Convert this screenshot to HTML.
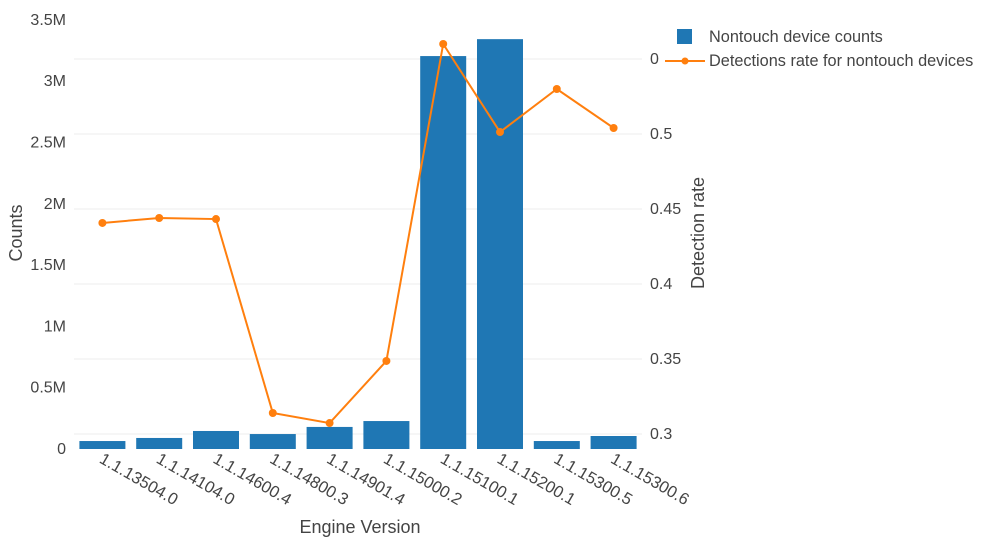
<!DOCTYPE html>
<html><head><meta charset="utf-8">
<style>
body{margin:0;background:#fff;font-family:"Liberation Sans",sans-serif;}
svg text{font-family:"Liberation Sans",sans-serif;fill:#444;}
</style></head>
<body>
<svg id="chart" width="994" height="544" xmlns="http://www.w3.org/2000/svg">
<g id="grid"></g><g id="bars"></g><g id="line"></g><g id="axes"></g>
<g id="legend">
 <rect x="677" y="29" width="15" height="15" fill="#1f77b4"/>
 <text x="709" y="42" font-size="16.3">Nontouch device counts</text>
 <line x1="665" y1="61" x2="705" y2="61" stroke="#ff7f0e" stroke-width="2"/>
 <circle cx="685" cy="61" r="3.5" fill="#ff7f0e"/>
 <text x="709" y="66" font-size="16.3">Detections rate for nontouch devices</text>
</g>
<text x="360" y="533" font-size="18" text-anchor="middle">Engine Version</text>
<text transform="translate(22,233) rotate(-90)" font-size="18" text-anchor="middle">Counts</text>
<text transform="translate(704,233) rotate(-90)" font-size="18" text-anchor="middle">Detection  rate</text>
</svg>
<script>
const categories=["1.1.13504.0","1.1.14104.0","1.1.14600.4","1.1.14800.3","1.1.14901.4","1.1.15000.2","1.1.15100.1","1.1.15200.1","1.1.15300.5","1.1.15300.6"];
const counts=[65000,90000,147000,122000,180000,228000,3205000,3343000,65000,106000];
const rates=[0.4407,0.444,0.4433,0.314,0.3073,0.3487,0.56,0.5013,0.53,0.504];
const yTicks=[0,500000,1000000,1500000,2000000,2500000,3000000,3500000];
const yTickLabels=["0","0.5M","1M","1.5M","2M","2.5M","3M","3.5M"];
const y2Ticks=[0.3,0.35,0.4,0.45,0.5,0.55];
const y2TickLabels=["0.3","0.35","0.4","0.45","0.5","0"];
const NS="http://www.w3.org/2000/svg";
const x0=74,x1=642,band=(x1-x0)/categories.length;
const xC=i=>x0+band*(i+0.5);
const yL=v=>449-v/500000*61.3;
const yR=v=>434-(v-0.3)/0.05*75;
function mk(t,a,p){const e=document.createElementNS(NS,t);for(const k in a)e.setAttribute(k,a[k]);document.getElementById(p).appendChild(e);return e;}
y2Ticks.forEach((v,i)=>{
 const g=mk("line",{x1:x0,x2:x1,y1:yR(v),y2:yR(v),stroke:"#ececec"},"grid");
 
 
 const t=mk("text",{x:650,y:yR(v)+5,"font-size":16},"axes");t.textContent=y2TickLabels[i];
 
 
});
yTicks.forEach((v,i)=>{
 const t=mk("text",{x:66,y:yL(v)+5,"font-size":16,"text-anchor":"end"},"axes");t.textContent=yTickLabels[i];
 
 
});
categories.forEach((c,i)=>{
 const b=mk("rect",{x:xC(i)-23,width:46,y:yL(counts[i]),height:449-yL(counts[i]),fill:"#1f77b4"},"bars");
 
 
 const t=mk("text",{transform:`translate(${xC(i)-4},${462}) rotate(30)`,"font-size":16.5},"axes");t.textContent=c;
 
 
});
const pl=mk("polyline",{points:rates.map((r,i)=>xC(i)+","+yR(r)).join(" "),fill:"none",stroke:"#ff7f0e","stroke-width":2},"line");


rates.forEach((r,i)=>{
 const c=mk("circle",{cx:xC(i),cy:yR(r),r:4,fill:"#ff7f0e"},"line");
 
 
});
</script>
</body></html>
